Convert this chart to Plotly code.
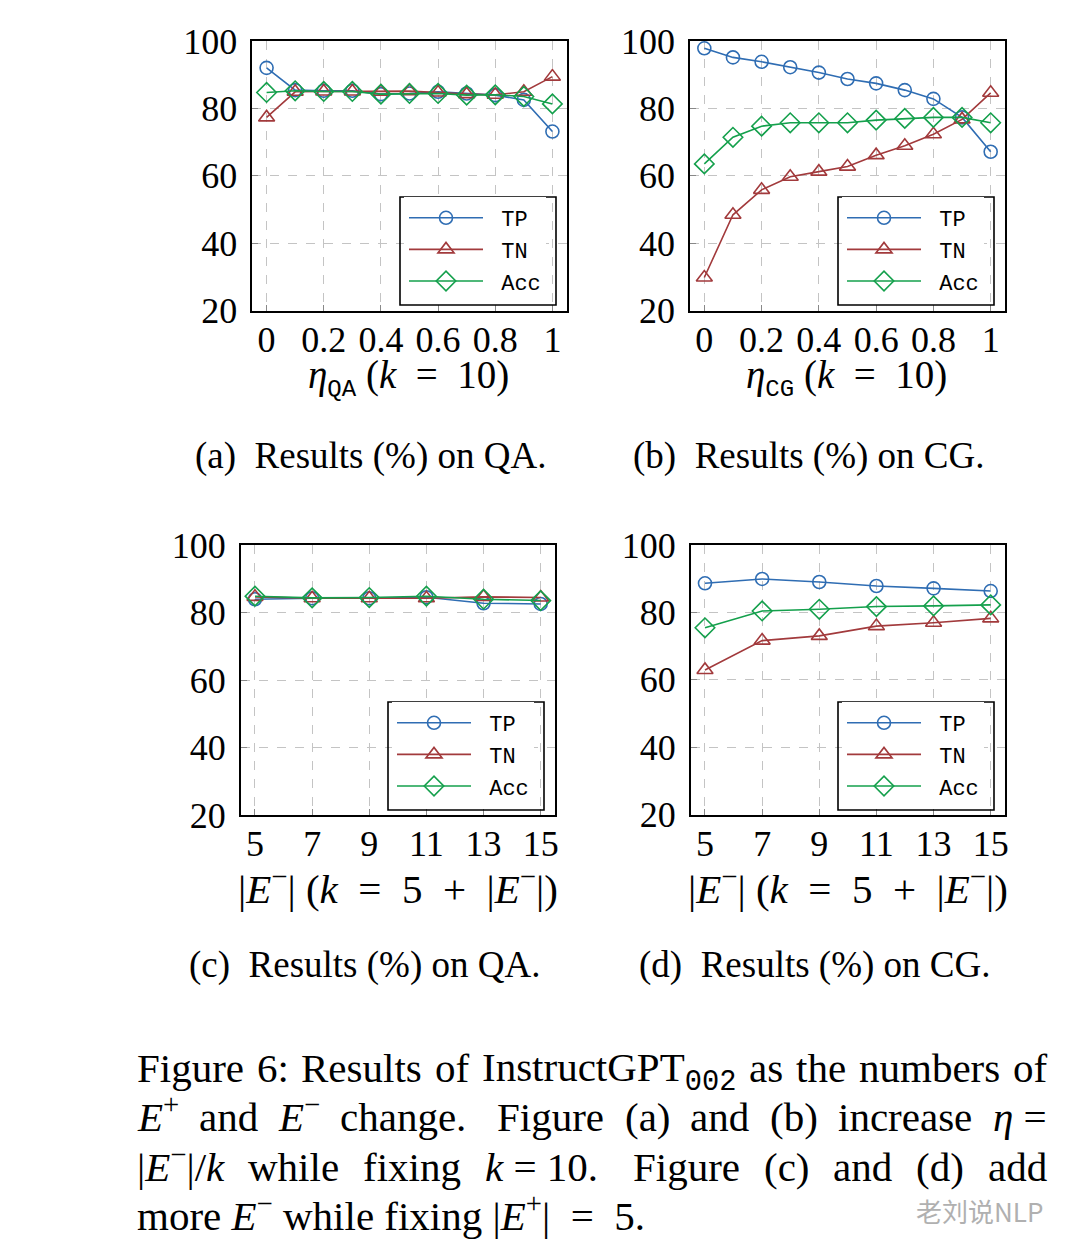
import plotly.graph_objects as go

# page body has an 8px default margin; size the figure to fill the rest
OFF = 8
W, H = 1080 - OFF, 1257 - OFF

# ---------------- data ----------------
eta = [0, 0.1, 0.2, 0.3, 0.4, 0.5, 0.6, 0.7, 0.8, 0.9, 1.0]
eta_ticks = [0, 0.2, 0.4, 0.6, 0.8, 1.0]
eta_ticktext = ["0", "0.2", "0.4", "0.6", "0.8", "1"]

qa_tp = [92.0, 85.4, 85.2, 85.2, 84.2, 84.4, 84.9, 84.4, 83.9, 82.5, 73.1]
qa_tn = [77.3, 84.9, 85.0, 85.0, 84.9, 85.1, 84.7, 84.2, 84.0, 84.9, 89.4]
qa_acc = [84.7, 85.2, 85.0, 85.0, 84.2, 84.4, 84.4, 83.9, 84.0, 83.5, 81.3]

cg_tp = [97.8, 95.1, 93.8, 92.2, 90.6, 88.7, 87.4, 85.4, 82.8, 77.3, 67.1]
cg_tn = [29.8, 48.4, 55.8, 59.7, 61.2, 62.7, 66.1, 68.9, 72.3, 76.7, 84.6]
cg_acc = [63.5, 71.4, 74.7, 75.7, 75.7, 75.7, 76.5, 77.0, 77.3, 77.3, 75.7]

neg = [5, 7, 9, 11, 13, 15]
neg_ticktext = ["5", "7", "9", "11", "13", "15"]

qa2_tp = [84.0, 84.3, 84.3, 84.6, 82.8, 82.6]
qa2_tn = [84.7, 84.3, 84.3, 84.3, 84.7, 84.5]
qa2_acc = [84.9, 84.4, 84.5, 84.9, 84.0, 83.6]

cg2_tp = [88.6, 89.9, 89.0, 87.8, 87.1, 86.3]
cg2_tn = [62.9, 71.6, 73.0, 75.9, 76.9, 78.2]
cg2_acc = [75.4, 80.4, 80.9, 81.7, 81.9, 82.2]

y_ticks = [20, 40, 60, 80, 100]
series_names = ["TP", "TN", "Acc"]

# ---------------- style ----------------
COLORS = {"TP": "#2f6db3", "TN": "#a23a3c", "Acc": "#14a04c"}
SYMBOLS = {"TP": "circle-open", "TN": "triangle-up-open", "Acc": "diamond-open"}
MSIZE = {"TP": 13, "TN": 14, "Acc": 15}
SERIF = "Liberation Serif"
MONO = "Liberation Mono"
NB = "\u00a0"


def px_x(p):
    return (p - OFF) / W


def px_y(p):
    return 1 - (p - OFF) / H


# panel pixel boxes (page pixels): (left, right, top, bottom)
panels = [
    dict(box=(252.3, 566.7, 40.9, 310.5), x=eta, xr=[-0.05, 1.05], tv=eta_ticks, tt=eta_ticktext,
         data=[qa_tp, qa_tn, qa_acc], legend=(404, 197)),
    dict(box=(690.0, 1005.0, 40.9, 310.5), x=eta, xr=[-0.05, 1.05], tv=eta_ticks, tt=eta_ticktext,
         data=[cg_tp, cg_tn, cg_acc], legend=(842, 197)),
    dict(box=(240.7, 555.0, 545.3, 814.9), x=neg, xr=[4.5, 15.5], tv=neg, tt=neg_ticktext,
         data=[qa2_tp, qa2_tn, qa2_acc], legend=(392, 702)),
    dict(box=(690.7, 1005.0, 544.9, 814.5), x=neg, xr=[4.5, 15.5], tv=neg, tt=neg_ticktext,
         data=[cg2_tp, cg2_tn, cg2_acc], legend=(842, 702)),
]

fig = go.Figure()
layout = dict(
    template="none",
    width=W, height=H,
    margin=dict(l=0, r=0, t=0, b=0, pad=0),
    paper_bgcolor="white", plot_bgcolor="white",
    font=dict(family=SERIF, size=36, color="black"),
    annotations=[],
    shapes=[],
)

legend_labels = {"TP": NB + "TP", "TN": NB + "TN", "Acc": NB + "Acc"}

for i, p in enumerate(panels):
    k = "" if i == 0 else str(i + 1)
    xa, ya = "x" + k, "y" + k
    leg = "legend" + k
    l, r, t, b = p["box"]
    for name, vals in zip(series_names, p["data"]):
        fig.add_trace(go.Scatter(
            x=p["x"], y=vals, name=legend_labels[name], mode="lines+markers",
            xaxis=xa, yaxis=ya, legend=leg,
            line=dict(color=COLORS[name], width=1.6),
            marker=dict(symbol=SYMBOLS[name], size=MSIZE[name],
                        color=COLORS[name], line=dict(width=1.6, color=COLORS[name])),
            showlegend=True,
        ))
    axis_common = dict(
        showline=True, linecolor="black", linewidth=1.6, mirror=True,
        showgrid=True, gridcolor="#c4c4c4", griddash="dash", gridwidth=1.3,
        ticks="inside", ticklen=6, tickcolor="#888888", tickwidth=1.2,
        zeroline=False, tickfont=dict(family=SERIF, size=36, color="black"),
        fixedrange=True, automargin=False,
    )
    layout["xaxis" + k] = dict(
        axis_common, domain=[px_x(l), px_x(r)], range=p["xr"],
        tickvals=p["tv"], ticktext=p["tt"], anchor=ya, ticklabelstandoff=-4,
    )
    layout["yaxis" + k] = dict(
        axis_common, domain=[px_y(b), px_y(t)], range=[20, 100],
        tickvals=y_ticks, ticktext=[str(v) for v in y_ticks], anchor=xa, ticklabelstandoff=6,
    )
    lx, ly = p["legend"]
    layout[leg] = dict(
        x=px_x(lx), y=px_y(ly), xanchor="left", yanchor="top",
        xref="paper", yref="paper",
        bordercolor="rgba(0,0,0,0)", borderwidth=0, bgcolor="white",
        font=dict(family=MONO, size=22, color="black"),
        itemwidth=74, tracegroupgap=0,
    )
    # legend frame drawn as a rectangle at the reference position
    layout["shapes"].append(dict(
        type="rect", xref="paper", yref="paper",
        x0=px_x(lx - 4), x1=px_x(lx + 152), y0=px_y(ly + 108), y1=px_y(ly),
        line=dict(color="black", width=1.6), fillcolor="rgba(0,0,0,0)", layer="above",
    ))

# axis labels
sub_style = '<span style="font-family:Liberation Mono;font-size:24px">'
eq2 = NB * 2 + "=" + NB * 2
pl2 = NB * 2 + "+" + NB * 2
xlabels = [
    ("<i>η</i><sub>" + sub_style + "QA</span></sub>" + NB + "(<i>k</i>" + eq2 + "10)", 408, 378, 39),
    ("<i>η</i><sub>" + sub_style + "CG</span></sub>" + NB + "(<i>k</i>" + eq2 + "10)", 846, 378, 39),
    ("|<i>E</i><sup>−</sup>|" + NB + "(<i>k</i>" + eq2 + "5" + pl2 + "|<i>E</i><sup>−</sup>|)", 398, 886, 41),
    ("|<i>E</i><sup>−</sup>|" + NB + "(<i>k</i>" + eq2 + "5" + pl2 + "|<i>E</i><sup>−</sup>|)", 848, 886, 41),
]
for txt, cx, cy, fs in xlabels:
    layout["annotations"].append(dict(
        text=txt, x=px_x(cx), y=px_y(cy), xref="paper", yref="paper",
        xanchor="center", yanchor="middle", showarrow=False,
        font=dict(family=SERIF, size=fs, color="black"),
    ))

# subcaptions
subcaps = [
    ("(a)" + NB + " Results (%) on QA.", 370, 456),
    ("(b)" + NB + " Results (%) on CG.", 808, 456),
    ("(c)" + NB + " Results (%) on QA.", 364, 965),
    ("(d)" + NB + " Results (%) on CG.", 814, 965),
]
for txt, cx, cy in subcaps:
    layout["annotations"].append(dict(
        text=txt, x=px_x(cx), y=px_y(cy), xref="paper", yref="paper",
        xanchor="center", yanchor="middle", showarrow=False,
        font=dict(family=SERIF, size=37, color="black"),
    ))

# ---------------- figure caption (justified) ----------------
CAP_FS = 41
CAP_L, CAP_R = 135, 1045
TIMES = {
    " ": 250, NB: 250, "a": 444, "b": 500, "c": 444, "d": 500, "e": 444, "f": 333, "g": 500,
    "h": 500, "i": 278, "j": 278, "k": 500, "l": 278, "m": 778, "n": 500, "o": 500, "p": 500,
    "q": 500, "r": 333, "s": 389, "t": 278, "u": 500, "v": 500, "w": 722, "x": 500, "y": 500,
    "z": 444, "A": 722, "B": 667, "C": 667, "D": 722, "E": 611, "F": 556, "G": 722, "H": 722,
    "I": 333, "P": 556, "Q": 722, "R": 667, "S": 556, "T": 611, "(": 333, ")": 333, ":": 278,
    ".": 250, ",": 250, "|": 200, "/": 278, "=": 564, "+": 564, "−": 564, "%": 833, "η": 500,
}
ITAL = {"E": 611, "k": 444, "η": 500}
SUP_SHIFT = 3    # keeps baselines aligned when a word carries a superscript
SUB_SHIFT = -3   # ... or a subscript


def run_width(text, kind):
    if kind == "subm":
        return len(text) * 600 * 0.7
    table = dict(TIMES, **ITAL) if kind == "i" else TIMES
    w = sum(table.get(ch, 500) for ch in text)
    return w * (0.7 if kind == "sup" else 1.0)


def run_html(text, kind):
    if kind == "i":
        return "<i>" + text + "</i>"
    if kind == "sup":
        return "<sup>" + text + "</sup>"
    if kind == "subm":
        return '<sub><span style="font-family:Liberation Mono">' + text + "</span></sub>"
    return text


def word_shift(runs):
    kinds = {kd for _, kd in runs}
    if "sup" in kinds:
        return SUP_SHIFT
    if "subm" in kinds:
        return SUB_SHIFT
    return 0


def W_(s):
    return [(s, "r")]


mEm = [("E", "i"), ("−", "sup")]
mEp = [("E", "i"), ("+", "sup")]
MEQ = NB + "=" + NB

# each line: (y, words, gap weights)
cap_lines = [
    (1068, [W_("Figure"), W_("6:"), W_("Results"), W_("of"),
            [("InstructGPT", "r"), ("002", "subm")], W_("as"), W_("the"), W_("numbers"), W_("of")],
     [1, 1, 1, 1, 1, 1, 1, 1]),
    (1117, [mEp, W_("and"), mEm, W_("change."), W_("Figure"), W_("(a)"), W_("and"), W_("(b)"),
            W_("increase"), [("η", "i"), (MEQ[:-1], "r")]],
     [1, 1, 1, 1.5, 1, 1, 1, 1, 1]),
    (1167, [[("|", "r")] + mEm + [("|/", "r"), ("k", "i")], W_("while"), W_("fixing"),
            [("k", "i"), (MEQ + "10.", "r")], W_("Figure"), W_("(c)"), W_("and"), W_("(d)"), W_("add")],
     [1, 1, 1, 1.5, 1, 1, 1, 1]),
]

for cy, words, gaps in cap_lines:
    widths = [sum(run_width(t, kd) for t, kd in w) * CAP_FS / 1000 for w in words]
    free = (CAP_R - CAP_L) - sum(widths)
    unit = free / sum(gaps)
    xcur = CAP_L
    for j, (w, wd) in enumerate(zip(words, widths)):
        html = "".join(run_html(t, kd) for t, kd in w)
        layout["annotations"].append(dict(
            text=html, x=px_x(xcur), y=px_y(cy), xref="paper", yref="paper",
            xanchor="left", yanchor="middle", showarrow=False, yshift=word_shift(w),
            font=dict(family=SERIF, size=CAP_FS, color="black"),
        ))
        if j < len(gaps):
            xcur += wd + unit * gaps[j]

# last line is not justified
layout["annotations"].append(dict(
    text="more <i>E</i><sup>−</sup> while fixing |<i>E</i><sup>+</sup>|" + NB * 2 + "=" + NB * 2 + "5.",
    x=px_x(CAP_L), y=px_y(1216), xref="paper", yref="paper",
    xanchor="left", yanchor="middle", showarrow=False, yshift=SUP_SHIFT,
    font=dict(family=SERIF, size=CAP_FS, color="black"),
))

# watermark
layout["annotations"].append(dict(
    text="老刘说NLP", x=px_x(1045), y=px_y(1210), xref="paper", yref="paper",
    xanchor="right", yanchor="middle", showarrow=False,
    font=dict(family="Noto Sans CJK SC", size=26, color="#b0b0b0"),
))

fig.update_layout(**layout)
fig.write_html("out.html")
